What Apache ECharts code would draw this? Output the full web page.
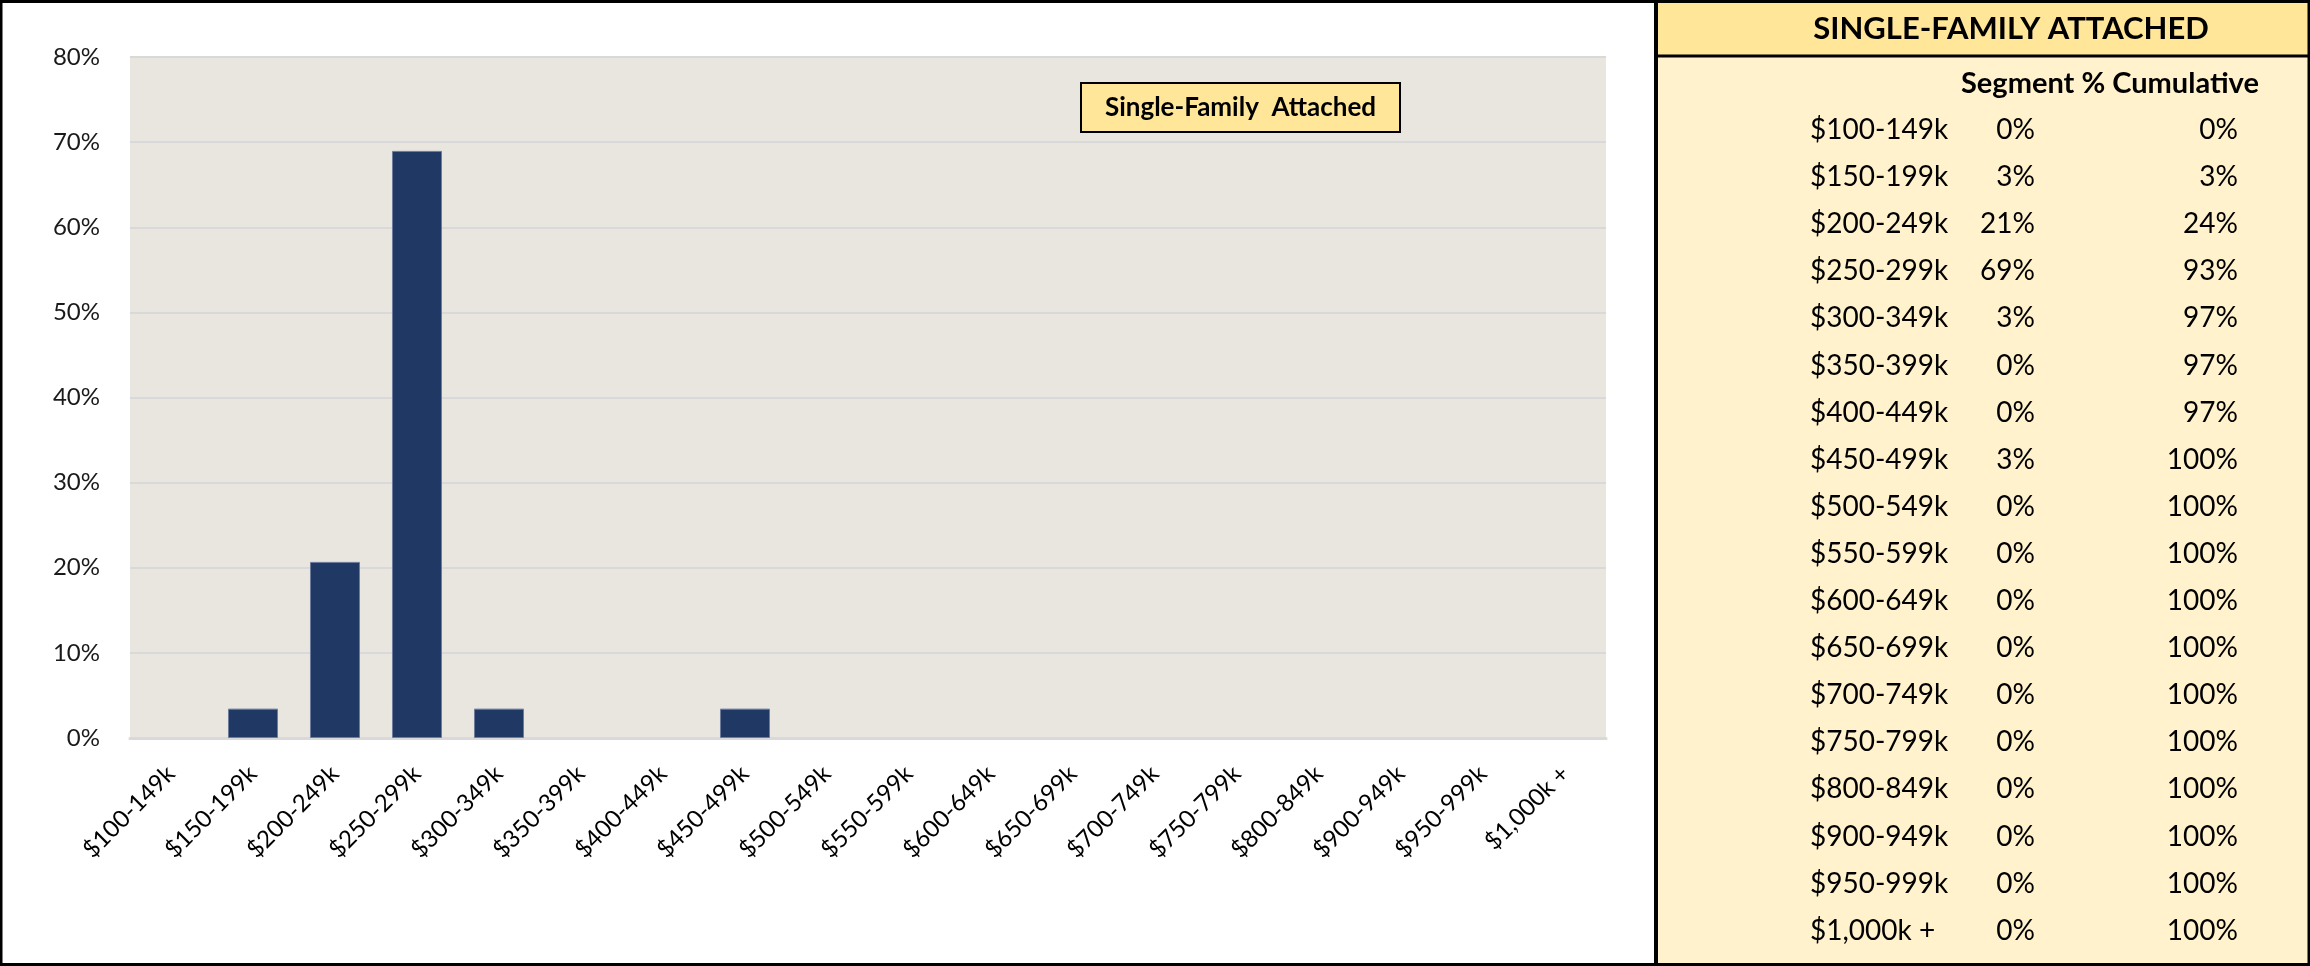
<!DOCTYPE html>
<html>
<head>
<meta charset="utf-8">
<title>Single-Family Attached</title>
<script src="https://cdn.jsdelivr.net/npm/echarts@6/dist/echarts.min.js"></script>
<style>
  html, body { margin: 0; padding: 0; background: #ffffff; }
  #chart { width: 2310px; height: 966px; }
</style>
</head>
<body>
<div id="chart"></div>
<script>
// Price bands (shared by the bar chart and the side table)
const categories = [
  '$100-149k', '$150-199k', '$200-249k', '$250-299k', '$300-349k', '$350-399k',
  '$400-449k', '$450-499k', '$500-549k', '$550-599k', '$600-649k', '$650-699k',
  '$700-749k', '$750-799k', '$800-849k', '$900-949k', '$950-999k', '$1,000k +'
];

// Share of sales in each band (%)
const segmentPct = [
  0, 3.45, 20.69, 68.97, 3.45, 0,
  0, 3.45, 0, 0, 0, 0,
  0, 0, 0, 0, 0, 0
];

// Running total column of the table
const cumulativeLabels = [
  '0%', '3%', '24%', '93%', '97%', '97%',
  '97%', '100%', '100%', '100%', '100%', '100%',
  '100%', '100%', '100%', '100%', '100%', '100%'
];

// Value axis range
const yMin = 0;
const yMax = 80;
const yStep = 10;

const seriesName = 'Single-Family  Attached';
const tableTitle = 'SINGLE-FAMILY ATTACHED';
const tableHeader = 'Segment % Cumulative';

const W = 2310, H = 966;
const calibriLike = 'Lato, "Open Sans", sans-serif';

// Side table layout
const tblLeft = 1656;
const headerH = 56;
const rowTop = 130;
const rowStep = 47.1;
const colRange = 1810;
const colSeg = 2035;
const colCum = 2238;

const tableGraphics = [];
// table background and header band
tableGraphics.push({
  type: 'rect', z: 1,
  shape: { x: tblLeft, y: 0, width: W - tblLeft, height: H },
  style: { fill: '#FFF2CC' }
});
tableGraphics.push({
  type: 'rect', z: 2,
  shape: { x: tblLeft, y: 0, width: W - tblLeft, height: headerH },
  style: { fill: '#FFE699' }
});
// heavy rules of the table
tableGraphics.push({
  type: 'line', z: 5,
  shape: { x1: tblLeft, y1: 0, x2: tblLeft, y2: H },
  style: { stroke: '#000000', lineWidth: 4 }
});
tableGraphics.push({
  type: 'line', z: 5,
  shape: { x1: tblLeft, y1: headerH, x2: W, y2: headerH },
  style: { stroke: '#000000', lineWidth: 3 }
});
tableGraphics.push({
  type: 'text', z: 6,
  style: {
    x: 2011, y: 29, text: tableTitle, align: 'center', verticalAlign: 'middle',
    font: 'bold 31px ' + calibriLike, fill: '#000000'
  }
});
tableGraphics.push({
  type: 'text', z: 6,
  style: {
    x: 1961, y: 84, text: tableHeader, align: 'left', verticalAlign: 'middle',
    font: 'bold 29px ' + calibriLike, fill: '#000000'
  }
});
categories.forEach(function (c, i) {
  const y = rowTop + i * rowStep;
  tableGraphics.push({
    type: 'text', z: 6,
    style: { x: colRange, y: y, text: c, align: 'left', verticalAlign: 'middle',
      font: '28px ' + calibriLike, fill: '#000000' }
  });
  tableGraphics.push({
    type: 'text', z: 6,
    style: { x: colSeg, y: y, text: Math.round(segmentPct[i]) + '%', align: 'right', verticalAlign: 'middle',
      font: '28px ' + calibriLike, fill: '#000000' }
  });
  tableGraphics.push({
    type: 'text', z: 6,
    style: { x: colCum, y: y, text: cumulativeLabels[i], align: 'right', verticalAlign: 'middle',
      font: '28px ' + calibriLike, fill: '#000000' }
  });
});

// Outer frame of the whole sheet
tableGraphics.push({
  type: 'rect', z: 10,
  shape: { x: 1, y: 1.5, width: W - 2, height: H - 3 },
  style: { fill: 'none', stroke: '#000000', lineWidth: 3 }
});

// Boxed series name inside the plot
const legendBox = {
  type: 'group', z: 20,
  children: [
    {
      type: 'rect',
      shape: { x: 1081, y: 83, width: 319, height: 49 },
      style: { fill: '#FFE699', stroke: '#000000', lineWidth: 2 }
    },
    {
      type: 'text',
      style: { x: 1240.5, y: 108, text: seriesName, align: 'center', verticalAlign: 'middle',
        font: 'bold 26px ' + calibriLike, fill: '#000000' }
    }
  ]
};

// Non-empty bars get a thin light outline; empty bands draw nothing
const barData = segmentPct.map(function (v) {
  return v > 0
    ? { value: v, itemStyle: { borderColor: '#6d7c9c', borderWidth: 1 } }
    : { value: v };
});

const chart = echarts.init(document.getElementById('chart'), null, { renderer: 'canvas' });

chart.setOption({
  animation: false,
  backgroundColor: '#ffffff',
  grid: {
    left: 130, right: W - 1606, top: 57, bottom: H - 738,
    show: true, backgroundColor: '#E8E6DF', borderWidth: 0
  },
  xAxis: {
    type: 'category',
    data: categories,
    axisTick: { show: false },
    axisLine: { show: true, lineStyle: { color: '#D9D9D9', width: 3 } },
    axisLabel: {
      interval: 0, rotate: 45, margin: 32,
      fontFamily: calibriLike, fontSize: 24, color: '#000000'
    },
    splitLine: { show: false }
  },
  yAxis: {
    type: 'value',
    min: yMin, max: yMax, interval: yStep,
    axisLine: { show: false },
    axisTick: { show: false },
    axisLabel: {
      formatter: '{value}%', margin: 30,
      fontFamily: calibriLike, fontSize: 24, color: '#1a1a1a'
    },
    splitLine: { show: true, lineStyle: { color: '#D9D9D9', width: 2 } }
  },
  series: [{
    name: seriesName,
    type: 'bar',
    data: barData,
    barCategoryGap: '39%',
    itemStyle: { color: '#203864', borderWidth: 0 }
  }],
  graphic: { elements: tableGraphics.concat([legendBox]) }
});
</script>
</body>
</html>
